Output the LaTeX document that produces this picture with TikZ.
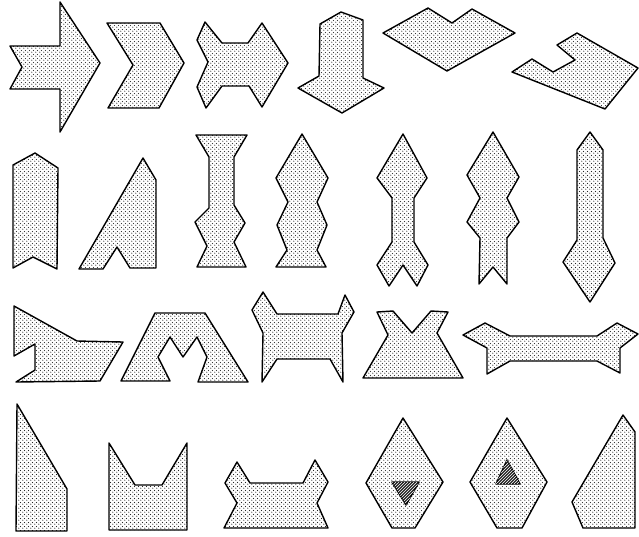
\documentclass[tikz,border=0pt]{standalone}
\usetikzlibrary{patterns, patterns.meta}
\tikzdeclarepattern{
  name=stipple, type=uncolored,
  bounding box={(0pt,0pt) and (3.6pt,3.6pt)},
  tile size={(3.6pt,3.6pt)},
  code={
    \fill (0.9pt,0.9pt) circle (0.65pt);
    \fill (2.7pt,2.7pt) circle (0.65pt);
  }
}
\tikzset{
  every picture/.style={line width=1.4pt, line join=round},
  piece/.style={draw=black, pattern=stipple, pattern color=black!85},
  hatchmark/.style={draw=black, fill=black!85},
}

\begin{document}
\begin{tikzpicture}[x=1pt, y=-1pt]
  \useasboundingbox (0,0) rectangle (639,536);
  % row 1
  \draw[piece] (10,46) -- (22,67) -- (10,89) -- (60,89) -- (60,132) -- (100,63) -- (60,2) -- (60,46) -- cycle;
  \draw[piece] (107,23) -- (160,23) -- (184,63) -- (159,108) -- (108,108) -- (133,65) -- cycle;
  \draw[piece] (205,22) -- (222,43) -- (248,43) -- (262,23) -- (288,63) -- (262,107) -- (249,86) -- (222,86) -- (206,108) -- (197,87) -- (208,62) -- (197,40) -- cycle;
  \draw[piece] (320,24) -- (341,12) -- (363,20) -- (363,78) -- (384,88) -- (342,113) -- (298,88) -- (319,76) -- cycle;
  \draw[piece] (383,33) -- (428,8) -- (452,23) -- (472,9) -- (515,33) -- (447,71) -- cycle;
  \draw[piece] (557,45) -- (577,33) -- (638,68) -- (605,109) -- (512,72) -- (532,59) -- (553,72) -- (575,60) -- cycle;
  % row 2
  \draw[piece] (13,165) -- (35,153) -- (58,168) -- (57,269) -- (33,257) -- (13,268) -- cycle;
  \draw[piece] (79,269) -- (143,158) -- (156,180) -- (156,268) -- (130,268) -- (117,247) -- (103,269) -- cycle;
  \draw[piece] (196,135) -- (247,135) -- (234,157) -- (234,205) -- (245,223) -- (234,242) -- (246,267) -- (197,267) -- (207,246) -- (195,222) -- (209,208) -- (209,157) -- cycle;
  \draw[piece] (302,134) -- (328,178) -- (317,202) -- (327,225) -- (317,250) -- (326,267) -- (276,267) -- (287,250) -- (277,225) -- (288,202) -- (276,178) -- cycle;
  \draw[piece] (403,134) -- (427,178) -- (414,198) -- (414,242) -- (428,265) -- (417,286) -- (403,265) -- (389,286) -- (377,265) -- (392,242) -- (392,198) -- (377,178) -- cycle;
  \draw[piece] (493,132) -- (519,177) -- (507,198) -- (519,222) -- (507,238) -- (507,284) -- (493,267) -- (479,284) -- (480,238) -- (467,222) -- (480,198) -- (467,175) -- cycle;
  \draw[piece] (590,132) -- (603,150) -- (603,238) -- (615,263) -- (590,302) -- (563,262) -- (577,240) -- (577,150) -- cycle;
  % row 3
  \draw[piece] (14,306) -- (77,341) -- (123,342) -- (100,381) -- (16,382) -- (35,370) -- (35,344) -- (14,356) -- cycle;
  \draw[piece] (121,381) -- (155,313) -- (205,313) -- (248,382) -- (198,382) -- (207,357) -- (197,337) -- (183,357) -- (170,337) -- (158,357) -- (170,381) -- cycle;
  \draw[piece] (252,310) -- (263,292) -- (277,314) -- (338,314) -- (345,295) -- (354,312) -- (342,333) -- (343,382) -- (330,359) -- (277,359) -- (262,382) -- (263,333) -- cycle;
  \draw[piece] (377,312) -- (393,311) -- (412,333) -- (431,311) -- (448,312) -- (437,333) -- (463,378) -- (363,378) -- (388,335) -- cycle;
  \draw[piece] (463,335) -- (485,323) -- (510,336) -- (597,336) -- (617,323) -- (638,334) -- (620,348) -- (620,373) -- (597,361) -- (510,361) -- (487,374) -- (487,348) -- cycle;
  % row 4
  \draw[piece] (17,404) -- (67,489) -- (67,531) -- (16,531) -- cycle;
  \draw[piece] (109,443) -- (135,485) -- (162,485) -- (187,443) -- (187,530) -- (109,530) -- cycle;
  \draw[piece] (225,483) -- (237,462) -- (250,483) -- (303,483) -- (315,460) -- (328,482) -- (317,503) -- (328,528) -- (224,528) -- (237,503) -- cycle;
  \draw[piece] (403,418) -- (443,482) -- (415,528) -- (392,528) -- (366,483) -- cycle;
  \draw[hatchmark] (392,482) -- (419,482) -- (406,505) -- cycle;
  \fill[pattern=north east lines, pattern color=white] (392,482) -- (419,482) -- (406,505) -- cycle;
  \draw[piece] (507,418) -- (547,482) -- (522,528) -- (497,528) -- (470,482) -- cycle;
  \draw[hatchmark] (507,460) -- (520,484) -- (496,484) -- cycle;
  \fill[pattern=north east lines, pattern color=white] (507,460) -- (520,484) -- (496,484) -- cycle;
  \draw[piece] (623,415) -- (635,432) -- (635,528) -- (583,528) -- (572,502) -- cycle;
\end{tikzpicture}
\end{document}
